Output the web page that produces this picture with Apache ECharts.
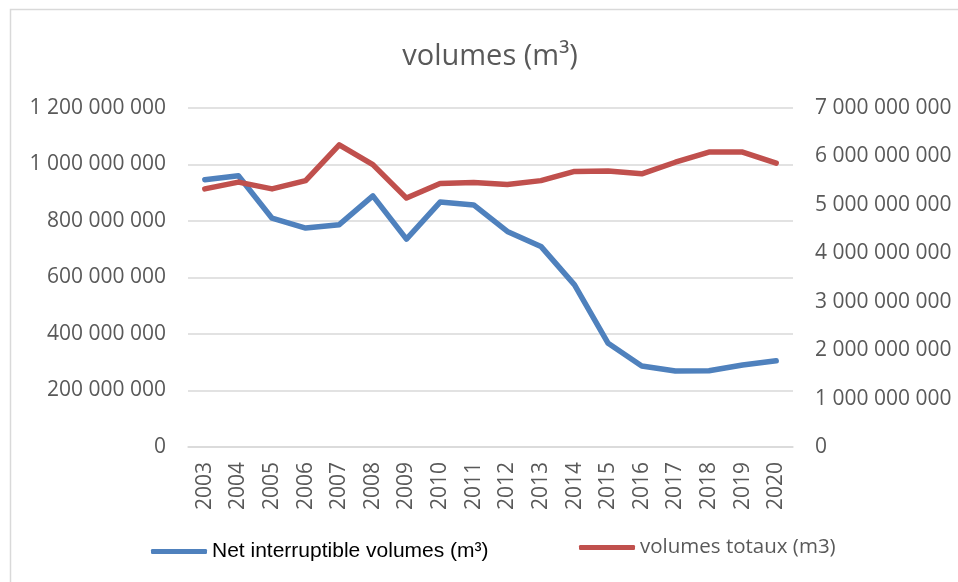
<!DOCTYPE html>
<html>
<head>
<meta charset="utf-8">
<script src="https://cdn.jsdelivr.net/npm/echarts@6/dist/echarts.min.js"></script>
<style>html,body{margin:0;padding:0;background:#fff}#c{width:958px;height:582px}</style>
</head>
<body>
<div id="c"></div>
<script>
const years = ['2003','2004','2005','2006','2007','2008','2009','2010','2011','2012','2013','2014','2015','2016','2017','2018','2019','2020'];
const netInterruptible = [946e6, 960e6, 810e6, 775e6, 787e6, 889e6, 736e6, 867e6, 857e6, 763e6, 710e6, 574e6, 367e6, 287e6, 269e6, 270e6, 290e6, 305e6];
const volumesTotaux = [5.33e9, 5.47e9, 5.33e9, 5.50e9, 6.24e9, 5.83e9, 5.14e9, 5.44e9, 5.46e9, 5.42e9, 5.50e9, 5.69e9, 5.70e9, 5.64e9, 5.88e9, 6.09e9, 6.09e9, 5.86e9];
const seriesNames = ['Net interruptible volumes (m³)', 'volumes totaux (m3)'];
const titleText = 'volumes (m³)';

function fmt(v){ return String(Math.round(v)).replace(/\B(?=(\d{3})+(?!\d))/g, ' '); }

const FONT = 'Open Sans';
const chart = echarts.init(document.getElementById('c'), null, {renderer:'canvas'});
chart.setOption({
  animation: false,
  backgroundColor: '#fff',
  graphic: [{
    type: 'rect', shape: {x: 10.5, y: 9.5, width: 1000, height: 700},
    style: {fill: 'none', stroke: '#d9d9d9', lineWidth: 1.5}, silent: true
  }],
  title: {
    text: titleText, top: 42, left: 490, textAlign: 'center', padding: 0,
    textStyle: {fontFamily: FONT, fontSize: 29, fontWeight: 'normal', color: '#595959'}
  },
  legend: [{
    data: [{name: seriesNames[0], textStyle: {fontFamily: 'Liberation Sans', fontSize: 21, color: '#000'}}],
    left: 151, top: 541, padding: 0, itemWidth: 56, itemHeight: 5, icon: 'roundRect', itemGap: 0
  }, {
    data: [{name: seriesNames[1], textStyle: {fontFamily: FONT, fontSize: 20.5, color: '#595959'}}],
    left: 579, top: 537, padding: 0, itemWidth: 56, itemHeight: 5, icon: 'roundRect', itemGap: 0
  }],
  grid: {left: 188, right: 165, top: 108, bottom: 135, containLabel: false},
  xAxis: {
    type: 'category', data: years, boundaryGap: true,
    axisLine: {show: true, lineStyle: {color: '#d9d9d9', width: 1.5}},
    axisTick: {show: false},
    axisLabel: {rotate: 90, margin: 15, fontFamily: FONT, fontSize: 21, color: '#595959'}
  },
  yAxis: [{
    type: 'value', min: 0, max: 1.2e9, interval: 2e8, position: 'left',
    axisLine: {show: false}, axisTick: {show: false},
    splitLine: {lineStyle: {color: '#d9d9d9', width: 1.5}},
    axisLabel: {formatter: fmt, margin: 22, fontFamily: FONT, fontSize: 21, color: '#595959'}
  }, {
    type: 'value', min: 0, max: 7e9, interval: 1e9, position: 'right',
    axisLine: {show: false}, axisTick: {show: false},
    splitLine: {show: false},
    axisLabel: {formatter: fmt, margin: 22, fontFamily: FONT, fontSize: 21, color: '#595959'}
  }],
  series: [{
    name: seriesNames[0], type: 'line', yAxisIndex: 0, data: netInterruptible,
    symbol: 'none', lineStyle: {width: 5.5, color: '#4f81bd', cap: 'round', join: 'round'},
    itemStyle: {color: '#4f81bd'}
  }, {
    name: seriesNames[1], type: 'line', yAxisIndex: 1, data: volumesTotaux,
    symbol: 'none', lineStyle: {width: 5.5, color: '#c0504d', cap: 'round', join: 'round'},
    itemStyle: {color: '#c0504d'}
  }]
});
</script>
</body>
</html>
